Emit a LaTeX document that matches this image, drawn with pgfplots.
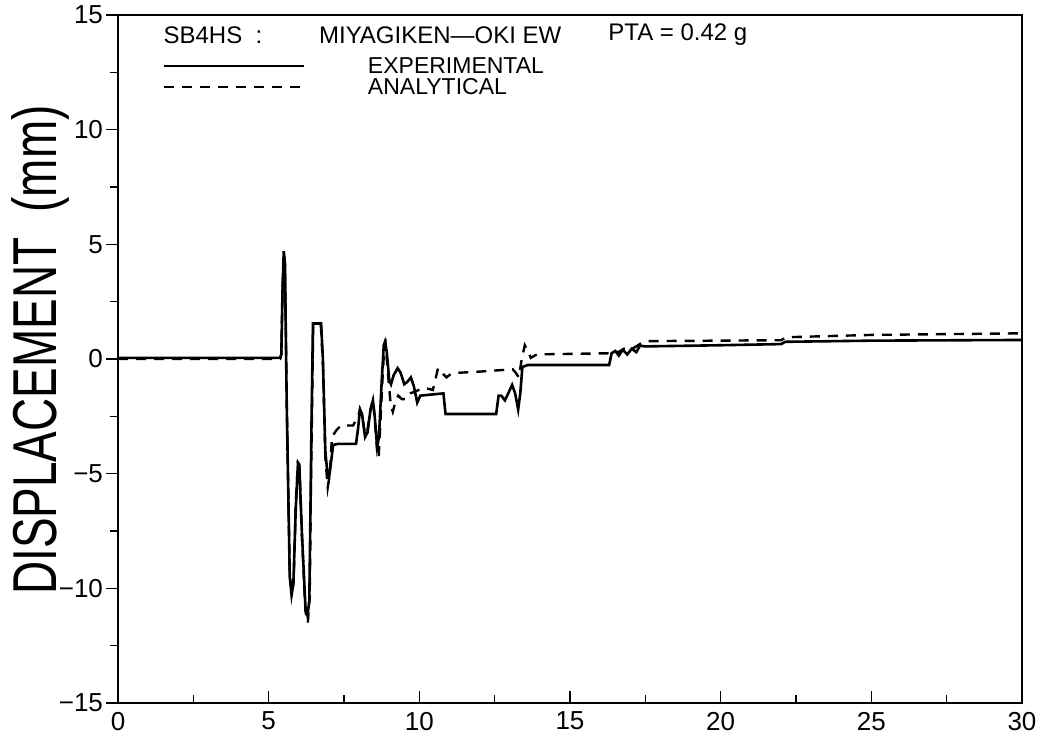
\documentclass[border=0pt]{standalone}
\usepackage{fontspec}
\setmainfont{Liberation Sans}
\usepackage{pgfplots}
\pgfplotsset{compat=1.18}

% experimental record (solid)
\pgfplotstableread{
t d
0 0.05
5.38 0.05
5.42 0.2
5.46 3.0
5.50 4.7
5.54 4.2
5.60 -2
5.70 -9.5
5.76 -10.3
5.82 -9.8
5.90 -6.5
5.97 -4.6
6.02 -4.7
6.10 -7.5
6.22 -10.8
6.29 -11.2
6.35 -10.5
6.42 -3
6.47 1.55
6.74 1.55
6.80 0
6.88 -4
6.95 -5.0
7.00 -5.2
7.06 -4.6
7.14 -3.75
7.30 -3.7
7.90 -3.7
7.97 -3.0
8.03 -2.2
8.10 -2.4
8.20 -3.4
8.28 -3.2
8.38 -2.2
8.46 -1.8
8.52 -2.5
8.60 -3.85
8.66 -3.4
8.75 -1.0
8.82 0.6
8.86 0.75
8.92 0.3
9.00 -0.9
9.06 -1.1
9.15 -0.7
9.28 -0.4
9.38 -0.6
9.50 -1.1
9.60 -1.0
9.72 -0.8
9.82 -1.2
9.93 -1.9
10.03 -1.6
10.40 -1.55
10.80 -1.5
10.87 -2.4
12.55 -2.4
12.63 -1.6
12.72 -1.6
12.84 -1.8
12.95 -1.5
13.08 -1.13
13.18 -1.5
13.28 -2.2
13.35 -1.5
13.42 -0.35
13.60 -0.26
16.30 -0.26
16.38 0.25
16.50 0.35
16.62 0.15
16.75 0.4
16.90 0.2
17.05 0.45
17.20 0.3
17.32 0.58
17.50 0.55
19.00 0.58
20.00 0.6
22.00 0.65
22.15 0.75
25.00 0.8
30.00 0.83
}\expdata

% analytical result (dashed)
\pgfplotstableread{
t d
0 0
5.38 0
5.42 0.2
5.46 3.0
5.50 4.6
5.54 4.1
5.60 -2
5.70 -9.4
5.77 -10.2
5.83 -9.7
5.90 -6.3
5.97 -4.5
6.02 -4.6
6.10 -7.6
6.22 -11.0
6.30 -11.5
6.36 -10.4
6.43 -3
6.48 1.5
6.73 1.5
6.80 -0.2
6.88 -4.3
6.96 -5.6
7.03 -5.0
7.10 -3.4
7.25 -3.1
7.40 -2.9
7.80 -2.9
7.97 -2.5
8.03 -2.2
8.10 -2.5
8.20 -3.3
8.28 -3.1
8.38 -2.2
8.46 -1.8
8.52 -2.6
8.60 -4.0
8.65 -4.3
8.70 -3.0
8.78 -0.8
8.84 0.6
8.88 0.7
8.95 -0.5
9.05 -2.0
9.12 -2.3
9.20 -1.9
9.30 -1.6
9.42 -1.75
9.55 -1.75
9.70 -1.5
9.90 -1.4
10.10 -1.27
10.30 -1.3
10.45 -1.35
10.55 -0.8
10.62 -0.4
10.75 -0.6
10.90 -0.8
11.05 -0.65
11.30 -0.6
12.00 -0.55
13.10 -0.45
13.20 -0.6
13.30 -0.8
13.40 0.0
13.50 0.6
13.60 0.35
13.70 0.05
13.90 0.2
16.30 0.25
16.42 0.35
16.60 0.3
16.80 0.45
17.00 0.4
17.20 0.55
17.40 0.72
17.60 0.78
22.00 0.82
22.20 0.95
25.00 1.05
30.00 1.12
}\anadata

\begin{document}
\begin{tikzpicture}
\path[use as bounding box] (0,0) rectangle (523pt,373pt);
\begin{axis}[
    scale only axis,
    width=452pt, height=344pt,
    at={(59pt,21.5pt)}, anchor=south west,
    xmin=0, xmax=30, ymin=-15, ymax=15,
    xtick={0,5,...,30},
    ytick={-15,-10,...,15},
    yticklabels={−15,−10,−5,0,5,10,15},
    minor x tick num=1, minor y tick num=1,
    xtick pos=lower, ytick pos=left,
    tick align=inside,
    major tick length=6pt, minor tick length=4pt,
    major y tick style={xshift=-6pt},
    minor y tick style={xshift=-4pt},
    axis line style={line width=1pt},
    tick style={line width=0.8pt, black},
    tick label style={font=\fontsize{13}{13}\selectfont},
    yticklabel style={xshift=-4pt},
    xticklabel style={yshift=-1pt},
    /pgf/number format/assume math mode=true,
    legend style={at={(0.049,0.938)}, anchor=north west, draw=none, fill=none,
        inner sep=0pt, row sep=2.5pt, column sep=2pt,
        nodes={inner sep=0pt, text height=7.5pt, text depth=0.5pt},
        font=\fontsize{11.5}{12}\selectfont},
    legend cell align=left,
    legend image code/.code={\draw[#1] (0pt,0pt) -- (70pt,0pt); \path[draw=none] (0pt,0pt) -- (100pt,0pt);},
]
\addplot[black, line width=1.3pt] table[x=t, y=d] {\expdata};
\addlegendentry{EXPERIMENTAL}
\addplot[black, line width=1.2pt, dash pattern=on 5pt off 4pt] table[x=t, y=d] {\anadata};
\addlegendentry{ANALYTICAL}

\node[anchor=west, inner sep=0pt, font=\fontsize{12}{12}\selectfont] at (axis description cs:0.05,0.971) {SB4HS\ \ :};
\node[anchor=west, inner sep=0pt, font=\fontsize{12}{12}\selectfont] at (axis description cs:0.222,0.971) {MIYAGIKEN—OKI EW};
\node[anchor=west, inner sep=0pt, font=\fontsize{12}{12}\selectfont] at (axis description cs:0.542,0.971) {PTA\ =\ 0.42\ g};
\end{axis}
\node[rotate=90, inner sep=0pt] at (20pt,198pt) {\scalebox{0.74}[1]{\fontsize{31}{31}\selectfont DISPLACEMENT\ \ (mm)}};
\end{tikzpicture}
\end{document}
